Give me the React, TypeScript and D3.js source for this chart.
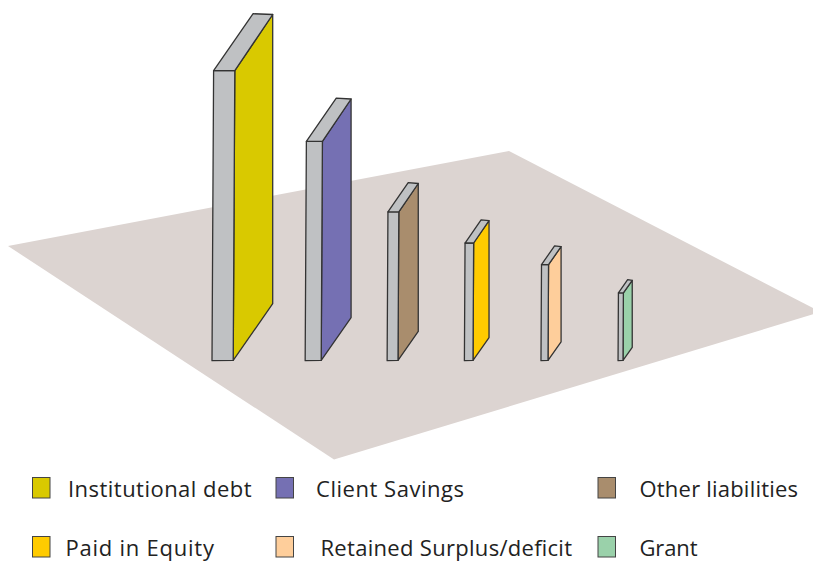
import React from "react";
import * as d3 from "d3";

const categories = ["Institutional debt", "Client Savings", "Other liabilities", "Paid in Equity", "Retained Surplus/deficit", "Grant"];
const shares = [30.8, 23.3, 15.8, 12.5, 10.2, 7.2];
const colors = ["#d9c900", "#7570b3", "#a98d6d", "#ffcb00", "#fece9b", "#9ad1aa"];
const barEdges = [233.2, 321.2, 398, 473, 548, 623];
const legendX = [[32.5, 68], [276, 316], [598, 639.5], [32.5, 65.5], [276, 320.5], [598, 639.5]];
const legendY = [477.5, 477.5, 477.5, 536.5, 536.5, 536.5];
const labelWidths = [183.5, 148, 158.5, 148.5, 251.5, 58];
const floor: [number, number][] = [[8, 246], [509, 151], [820.6, 312], [334, 459.5]];

const GREY = "#bfc1c3";
const INK = "#333333";
const BASE = 360.7;

const heightScale = d3.scaleLinear().domain([0, 30.8]).range([0, 290]);
const widthScale = d3.scaleLinear().domain([0, 30.8]).range([0, 21.2]);
const depthX = d3.scaleLinear().domain([0, 30.8]).range([0, 39.5]);
const depthY = d3.scaleLinear().domain([0, 30.8]).range([0, 57]);
const skew = d3.scaleLinear().domain([0, 30.8]).range([0, 1.6]);
const edgeScale = d3.scaleOrdinal<string, number>(categories, barEdges);
const poly = d3.line();

export default function App() {
  return (
    <svg width={813} height={561} style={{ position: "absolute", left: 0, top: 0, display: "block" }}>
      <path d={poly(floor) + "Z"} fill="#dcd4d1" />
      {categories.map((c, i) => {
        const v = shares[i];
        const x = edgeScale(c);
        const h = heightScale(v);
        const w = widthScale(v);
        const dx = depthX(v);
        const dy = depthY(v);
        const s = skew(v);
        const top = BASE - h;
        const front: [number, number][] = [[x - w, BASE], [x, BASE - 0.3], [x + s, top], [x - w + s, top]];
        const side: [number, number][] = [[x, BASE - 0.3], [x + dx, BASE - dy], [x + dx, top - dy + 0.8], [x + s, top]];
        const cap: [number, number][] = [[x - w + s, top], [x + s, top], [x + dx, top - dy + 0.8], [x + dx - w + s, top - dy]];
        const common = { stroke: INK, strokeWidth: 1.3, strokeLinejoin: "round" as const };
        return (
          <g key={c}>
            <path d={poly(side) + "Z"} fill={colors[i]} {...common} />
            <path d={poly(front) + "Z"} fill={GREY} {...common} />
            <path d={poly(cap) + "Z"} fill={GREY} {...common} />
          </g>
        );
      })}
      {categories.map((c, i) => (
        <g key={c}>
          <rect x={legendX[i][0]} y={legendY[i]} width={17.5} height={20.5} fill={colors[i]} stroke="#444" strokeWidth={1} />
          <text
            x={legendX[i][1]}
            y={legendY[i] + 19.5}
            fontFamily="'Open Sans', sans-serif"
            fontSize={22}
            fill="#222"
            textLength={labelWidths[i]}
            lengthAdjust="spacing"
          >
            {c}
          </text>
        </g>
      ))}
    </svg>
  );
}
